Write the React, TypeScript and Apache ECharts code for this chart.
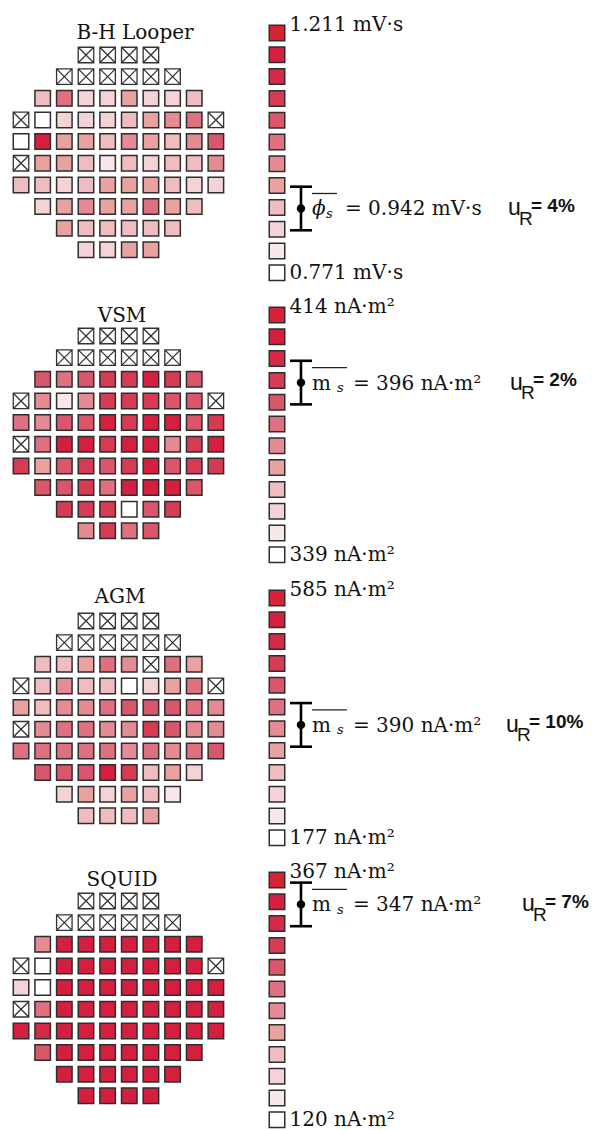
import React, { useEffect, useRef } from 'react';
import * as echarts from 'echarts';

// ---------------- data ----------------
const titles = ['B-H Looper', 'VSM', 'AGM', 'SQUID'];
const scaleMaxLabels = ['1.211 mV·s', '414 nA·m²', '585 nA·m²', '367 nA·m²'];
const scaleMinLabels = ['0.771 mV·s', '339 nA·m²', '177 nA·m²', '120 nA·m²'];
const meanSymbols = ['ϕ', 'm', 'm', 'm'];
const meanValues = ['0.942 mV·s', '396 nA·m²', '390 nA·m²', '347 nA·m²'];
const relUncertainty = ['4%', '2%', '10%', '7%'];
// position of the mean on the 12-step colour scale (0 = bottom/white, 11 = top/red)
const meanLevels = [2.95, 7.9, 5.18, 9.88];
const errorLevels = [1, 1, 1, 1];
const scaleLevels = [0, 1, 2, 3, 4, 5, 6, 7, 8, 9, 10, 11];

// colour level of every die (null = no die, -1 = excluded die)
const _ = null;
const X = -1;
const bhLooper = [
  [_, _, _, X, X, X, X, _, _, _],
  [_, _, X, X, X, X, X, X, _, _],
  [_, 3, 6, 2, 2, 4, 2, 2, 3, _],
  [X, 0, 2, 2, 2, 3, 4, 5, 6, X],
  [0, 10, 4, 4, 3, 5, 4, 3, 5, 7],
  [X, 4, 4, 3, 1, 3, 2, 3, 3, 5],
  [3, 3, 2, 3, 4, 4, 4, 3, 2, 2],
  [_, 2, 4, 5, 4, 4, 6, 4, 3, _],
  [_, _, 4, 3, 3, 3, 3, 3, _, _],
  [_, _, _, 2, 2, 4, 4, _, _, _],
];
const vsm = [
  [_, _, _, X, X, X, X, _, _, _],
  [_, _, X, X, X, X, X, X, _, _],
  [_, 7, 6, 7, 8, 8, 10, 8, 7, _],
  [X, 5, 1, 5, 8, 8, 8, 7, 7, X],
  [6, 5, 7, 7, 10, 8, 10, 10, 7, 8],
  [X, 6, 10, 10, 8, 10, 10, 5, 8, 10],
  [8, 4, 7, 8, 7, 8, 10, 7, 8, 8],
  [_, 7, 7, 8, 6, 10, 10, 10, 7, _],
  [_, _, 8, 8, 8, 0, 7, 8, _, _],
  [_, _, _, 5, 8, 6, 7, _, _, _],
];
const agm = [
  [_, _, _, X, X, X, X, _, _, _],
  [_, _, X, X, X, X, X, X, _, _],
  [_, 3, 3, 4, 6, 5, X, 6, 4, _],
  [X, 3, 5, 3, 3, 0, 2, 4, 6, X],
  [4, 3, 5, 5, 6, 7, 7, 7, 6, 5],
  [X, 5, 6, 6, 5, 5, 8, 7, 5, 5],
  [6, 6, 6, 6, 6, 5, 6, 5, 6, 7],
  [_, 7, 7, 7, 10, 8, 3, 4, 2, _],
  [_, _, 2, 4, 2, 4, 3, 1, _, _],
  [_, _, _, 3, 3, 3, 4, _, _, _],
];
const squid = [
  [_, _, _, X, X, X, X, _, _, _],
  [_, _, X, X, X, X, X, X, _, _],
  [_, 5, 10, 10, 10, 10, 10, 10, 10, _],
  [X, 0, 10, 10, 10, 10, 10, 10, 10, X],
  [2, 0, 10, 10, 10, 10, 10, 10, 10, 10],
  [X, 6, 10, 10, 10, 10, 10, 10, 10, 10],
  [10, 9, 10, 10, 10, 10, 10, 10, 10, 10],
  [_, 7, 10, 10, 10, 10, 10, 10, 10, _],
  [_, _, 10, 10, 10, 10, 10, 10, _, _],
  [_, _, _, 10, 10, 10, 10, _, _, _],
];
const wafers = [bhLooper, vsm, agm, squid];

// ---------------- style / layout ----------------
const levelColors = [
  '#ffffff', '#f8e8e9', '#f3d3d5', '#efbdbf', '#e8a3a0', '#e48b94',
  '#de7080', '#da566b', '#d53b52', '#d42a47', '#d41f3f', '#d52234',
];
const SERIF = '"DejaVu Serif", serif';
const SANS = '"Liberation Sans", Arial, sans-serif';
const PITCH = 21.65;
const SCALE_PITCH = 21.8;
const WAFER_LEFT = 10.2;
const ROW0 = [55, 336, 621, 901];
const SCALE_TOP = [33, 315, 598, 880];
const SCALE_CX = 277;
const TITLE_X = [135, 122, 120, 122];
const TITLE_Y = [31.5, 315, 596, 879];
const UR_X = [508, 510, 506, 522];
const CELL = 15.5;
const BORDER = '#2e2e2e';
const CROSS = 'path://M0 0H16V16H0Z M0 0L16 16 M16 0L0 16';

function txt(x: number, y: number, text: string, font: string, align = 'left', fill = '#111') {
  return {
    type: 'text',
    x,
    y,
    silent: true,
    style: {
      text,
      font,
      fill,
      align,
      verticalAlign: 'middle',
      textAlign: align,
      textVerticalAlign: 'middle',
    },
  };
}

function buildOption() {
  const option: any = {
    animation: false,
    backgroundColor: '#ffffff',
    grid: [],
    xAxis: [],
    yAxis: [],
    series: [],
    graphic: [],
  };

  wafers.forEach((w, i) => {
    // wafer map grid
    const gw = option.grid.length;
    option.grid.push({
      left: WAFER_LEFT,
      width: PITCH * 10,
      top: ROW0[i] - PITCH / 2,
      height: PITCH * 10,
      outerBoundsMode: 'none',
    });
    option.xAxis.push({ type: 'value', gridIndex: gw, min: -0.5, max: 9.5, show: false });
    option.yAxis.push({ type: 'value', gridIndex: gw, min: -0.5, max: 9.5, inverse: true, show: false });

    const cells: any[] = [];
    const crossed: any[] = [];
    w.forEach((row, r) =>
      row.forEach((v, c) => {
        if (v === null) return;
        if (v < 0) crossed.push([c, r]);
        else cells.push({ value: [c, r, v], itemStyle: { color: levelColors[v] } });
      })
    );
    option.series.push({
      type: 'scatter',
      xAxisIndex: gw,
      yAxisIndex: gw,
      symbol: 'rect',
      symbolSize: CELL,
      silent: true,
      data: cells,
      itemStyle: { borderColor: BORDER, borderWidth: 1.5, opacity: 1 },
    });
    option.series.push({
      type: 'scatter',
      xAxisIndex: gw,
      yAxisIndex: gw,
      symbol: CROSS,
      symbolSize: CELL,
      silent: true,
      data: crossed,
      itemStyle: { color: '#ffffff', borderColor: '#333333', borderWidth: 1.3, opacity: 1 },
    });

    // colour scale grid
    const gs = option.grid.length;
    option.grid.push({
      left: SCALE_CX - SCALE_PITCH / 2,
      width: SCALE_PITCH * 2,
      top: SCALE_TOP[i] - SCALE_PITCH / 2,
      height: SCALE_PITCH * 12,
      outerBoundsMode: 'none',
    });
    option.xAxis.push({ type: 'value', gridIndex: gs, min: -0.5, max: 1.5, show: false });
    option.yAxis.push({ type: 'value', gridIndex: gs, min: -0.5, max: 11.5, show: false });

    const labelBase = {
      show: true,
      position: 'right',
      distance: 4,
      fontFamily: SERIF,
      fontSize: 20,
      color: '#111',
    };
    option.series.push({
      type: 'scatter',
      xAxisIndex: gs,
      yAxisIndex: gs,
      symbol: 'rect',
      symbolSize: CELL,
      silent: true,
      itemStyle: { borderColor: BORDER, borderWidth: 1.5, opacity: 1 },
      data: scaleLevels.map((lv) => {
        const item: any = { value: [0, lv], itemStyle: { color: levelColors[lv] } };
        if (lv === scaleLevels[scaleLevels.length - 1]) {
          item.label = { ...labelBase, offset: [0, -9], formatter: scaleMaxLabels[i] };
        } else if (lv === scaleLevels[0]) {
          item.label = { ...labelBase, offset: [0, -1], formatter: scaleMinLabels[i] };
        }
        return item;
      }),
    });

    // mean value with error bar and annotation
    const sym = meanSymbols[i];
    const isPhi = sym === 'ϕ';
    option.series.push({
      type: 'custom',
      xAxisIndex: gs,
      yAxisIndex: gs,
      silent: true,
      data: [[1.1, meanLevels[i], errorLevels[i]]],
      renderItem: (params: any, api: any) => {
        const xv = api.value(0);
        const m = api.value(1);
        const e = api.value(2);
        const c = api.coord([xv, m]);
        const t = api.coord([xv, m + e]);
        const b = api.coord([xv, m - e]);
        const cx = c[0];
        const cy = c[1];
        const lineStyle = { stroke: '#000', lineWidth: 2.6 };
        const subX = isPhi ? 25 : 36;
        const eqX = isPhi ? 44 : 52;
        const ovEnd = isPhi ? 36 : 46;
        const ux = UR_X[i];
        return {
          type: 'group',
          children: [
            { type: 'line', shape: { x1: cx, y1: t[1], x2: cx, y2: b[1] }, style: lineStyle },
            { type: 'line', shape: { x1: cx - 11, y1: t[1], x2: cx + 11, y2: t[1] }, style: lineStyle },
            { type: 'line', shape: { x1: cx - 11, y1: b[1], x2: cx + 11, y2: b[1] }, style: lineStyle },
            { type: 'circle', shape: { cx, cy, r: 4.2 }, style: { fill: '#000' } },
            {
              type: 'line',
              shape: { x1: cx + 11, y1: cy - 15, x2: cx + ovEnd, y2: cy - 15 },
              style: { stroke: '#222', lineWidth: 1.3 },
            },
            txt(cx + 11, cy, sym, (isPhi ? 'italic ' : '') + '20px ' + SERIF),
            txt(cx + subX, cy + 5, 's', 'italic 13px ' + SERIF),
            txt(cx + eqX, cy, '= ' + meanValues[i], '20px ' + SERIF),
            txt(ux, cy - 1, 'u', '23px ' + SANS),
            txt(ux + 11, cy + 10, 'R', '19px ' + SANS),
            txt(ux + 23, cy - 3, '= ' + relUncertainty[i], 'bold 19px ' + SANS),
          ],
        };
      },
    });

    option.graphic.push({
      type: 'text',
      x: TITLE_X[i],
      y: TITLE_Y[i],
      silent: true,
      style: {
        text: titles[i],
        font: '20px ' + SERIF,
        fill: '#111',
        align: 'center',
        verticalAlign: 'middle',
        textAlign: 'center',
        textVerticalAlign: 'middle',
      },
    });
  });

  return option;
}

export default function App() {
  const ref = useRef<HTMLDivElement>(null);
  useEffect(() => {
    document.body.style.margin = '0';
    if (!ref.current) return;
    const chart = echarts.init(ref.current, undefined, { renderer: 'svg' });
    chart.setOption(buildOption());
    return () => {
      chart.dispose();
    };
  }, []);
  return (
    <div
      ref={ref}
      style={{ position: 'absolute', left: 0, top: 0, width: 603, height: 1130, background: '#fff' }}
    />
  );
}
